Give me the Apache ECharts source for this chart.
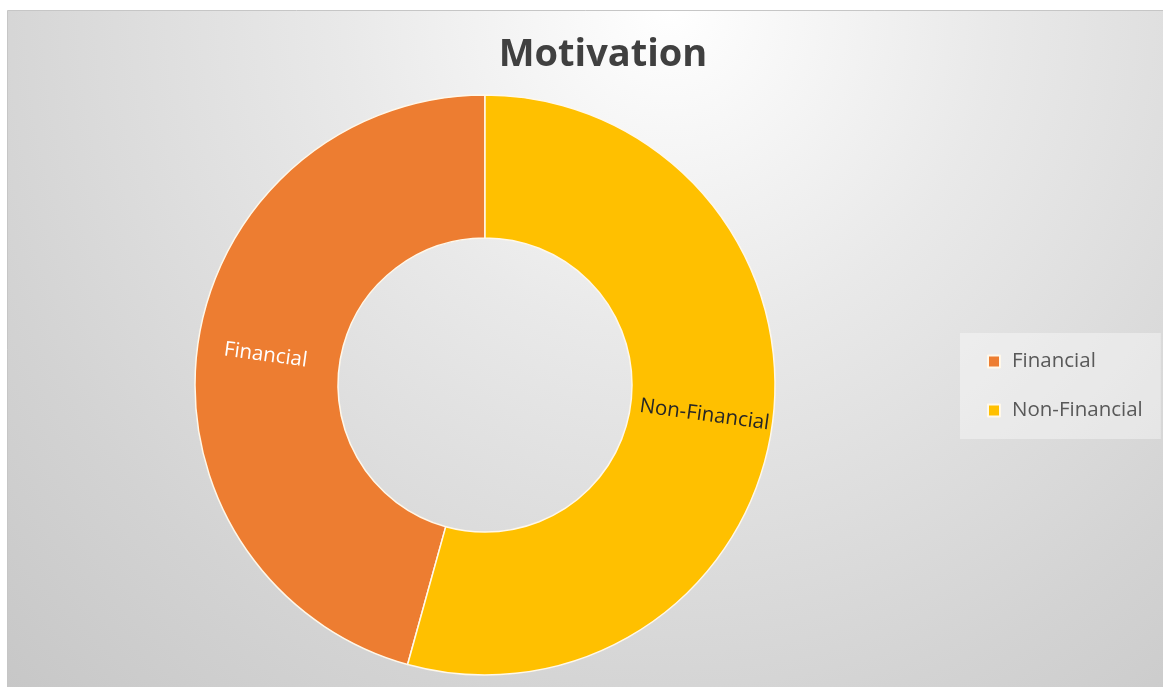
<!DOCTYPE html>
<html>
<head>
<meta charset="utf-8">
<title>Motivation</title>
<script src="https://cdn.jsdelivr.net/npm/echarts@6/dist/echarts.min.js"></script>
<style>
  html, body { margin: 0; padding: 0; background: #ffffff; }
  #chart { width: 1163px; height: 687px; }
</style>
</head>
<body>
<div id="chart"></div>
<script>
// Motivation split
const categories = ['Financial', 'Non-Financial'];
const shares = [45.7, 54.3];
const sliceColors = ['#ED7D31', '#FFC000'];
const labelColors = ['#ffffff', '#262626'];

const chart = echarts.init(document.getElementById('chart'), null, { renderer: 'canvas' });

const pieData = categories.map((name, i) => ({
  name: name,
  value: shares[i],
  itemStyle: { color: sliceColors[i] },
  label: { color: labelColors[i] }
}));

chart.setOption({
  animation: false,
  graphic: [{
    type: 'rect',
    z: -10,
    silent: true,
    shape: { x: 7.5, y: 10.5, width: 1160, height: 680 },
    style: {
      fill: new echarts.graphic.RadialGradient(0.57, 0.0, 1.45, [
        { offset: 0, color: '#ffffff' },
        { offset: 0.33, color: '#e9e9e9' },
        { offset: 0.72, color: '#d3d3d3' },
        { offset: 1, color: '#c5c5c5' }
      ]),
      stroke: '#c6c6c6',
      lineWidth: 1
    }
  }],
  title: {
    text: 'Motivation',
    left: 598,
    textAlign: 'center',
    top: 31,
    textStyle: {
      fontFamily: 'Open Sans',
      fontSize: 38,
      fontWeight: 'bold',
      color: '#404040'
    }
  },
  legend: {
    orient: 'vertical',
    left: 960,
    top: 333,
    data: categories,
    backgroundColor: 'rgba(255,255,255,0.38)',
    padding: [18, 18, 18, 27],
    itemWidth: 12,
    itemHeight: 12,
    itemGap: 28,
    icon: 'rect',
    textStyle: {
      fontFamily: 'Open Sans',
      fontSize: 20.5,
      color: '#595959',
      padding: [0, 0, 0, 7]
    }
  },
  series: [{
    type: 'pie',
    center: [485, 385],
    radius: [147, 290],
    startAngle: 90,
    clockwise: false,
    silent: true,
    itemStyle: { borderColor: '#fff8ea', borderWidth: 1.5 },
    label: {
      show: true,
      position: 'inside',
      rotate: 'radial',
      formatter: '{b}',
      fontFamily: 'Open Sans',
      fontSize: 20.5
    },
    labelLine: { show: false },
    emphasis: { disabled: true },
    data: pieData
  }]
});
</script>
</body>
</html>
